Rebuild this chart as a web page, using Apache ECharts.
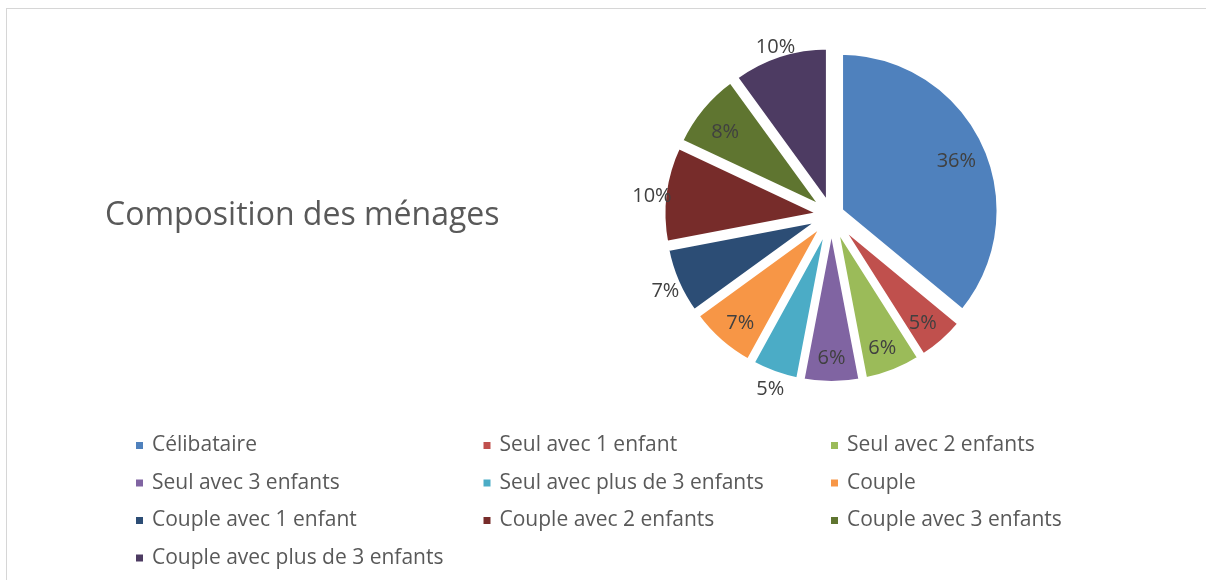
<!DOCTYPE html>
<html>
<head>
<meta charset="utf-8">
<title>Composition des ménages</title>
<script src="https://cdn.jsdelivr.net/npm/echarts@6/dist/echarts.min.js"></script>
<style>
    html, body { margin: 0; padding: 0; background: #fff; }
    #frame {
        position: absolute; left: 6px; top: 8px; width: 1300px; height: 700px;
        border: 1px solid #d6d6d6; box-sizing: border-box;
    }
    #chart-container { position: absolute; left: 0; top: 0; width: 1206px; height: 580px; }
</style>
</head>
<body>
<div id="frame"></div>
<div id="chart-container"></div>
<script>
const categories = [
    'Célibataire',
    'Seul avec 1 enfant',
    'Seul avec 2 enfants',
    'Seul avec 3 enfants',
    'Seul avec plus de 3 enfants',
    'Couple',
    'Couple avec 1 enfant',
    'Couple avec 2 enfants',
    'Couple avec 3 enfants',
    'Couple avec plus de 3 enfants'
];
const shares = [36, 5, 6, 6, 5, 7, 7, 10, 8, 10];
// which labels Excel put outside the slice
const labelOutside = [false, false, false, false, true, false, true, true, false, true];
const colors = ['#4f81bd', '#c0504d', '#9bbb59', '#8064a2', '#4bacc6',
    '#f79646', '#2c4d75', '#772c2a', '#5f7530', '#4d3b62'];

const CX = 831.5, CY = 215, R = 158.5;
const FONT = '"Open Sans", sans-serif';

// invisible ring, used only to place the percentage labels
function labelRing(radius, outside, dy) {
    return {
        type: 'pie',
        silent: true,
        center: [CX, CY],
        radius: radius,
        z: 5,
        itemStyle: {color: 'transparent', borderWidth: 0},
        labelLine: {show: false},
        data: categories.map((name, i) => ({
            name: name,
            value: shares[i],
            label: {show: labelOutside[i] === outside}
        })),
        label: {
            position: 'inside',
            formatter: '{c}%',
            offset: [0, dy],
            color: '#404040',
            fontFamily: FONT,
            fontSize: 20
        }
    };
}

const chartDom = document.getElementById('chart-container');
const myChart = echarts.init(chartDom, null, {renderer: 'canvas'});

var option = {
    animation: false,
    color: colors,
    title: {
        text: 'Composition des ménages',
        left: 100,
        top: 195,
        textStyle: {color: '#595959', fontFamily: FONT, fontSize: 32, fontWeight: 'normal'}
    },
    legend: {
        data: categories,
        left: 134,
        top: 433,
        width: 1050,
        padding: 0,
        icon: 'rect',
        itemWidth: 9,
        itemHeight: 9,
        itemGap: 12.5,
        formatter: '{a|{name}}',
        textStyle: {
            rich: {
                a: {
                    width: 317, height: 25, lineHeight: 25, padding: [0, 0, 0, 3],
                    color: '#595959', fontFamily: FONT, fontSize: 21
                }
            }
        }
    },
    series: [
        {
            type: 'pie',
            name: 'Composition des ménages',
            center: [CX, CY],
            radius: R,
            startAngle: 90,
            clockwise: true,
            selectedMode: 'multiple',
            selectedOffset: 10,
            label: {show: false},
            labelLine: {show: false},
            itemStyle: {borderColor: '#ffffff', borderWidth: 5},
            select: {itemStyle: {borderColor: '#ffffff', borderWidth: 5}},
            data: categories.map((name, i) => ({name: name, value: shares[i], selected: true}))
        },
        labelRing([121, 149], false, 5),
        labelRing([164, 192], true, 4)
    ]
};

option && myChart.setOption(option, true);
</script>
</body>
</html>
